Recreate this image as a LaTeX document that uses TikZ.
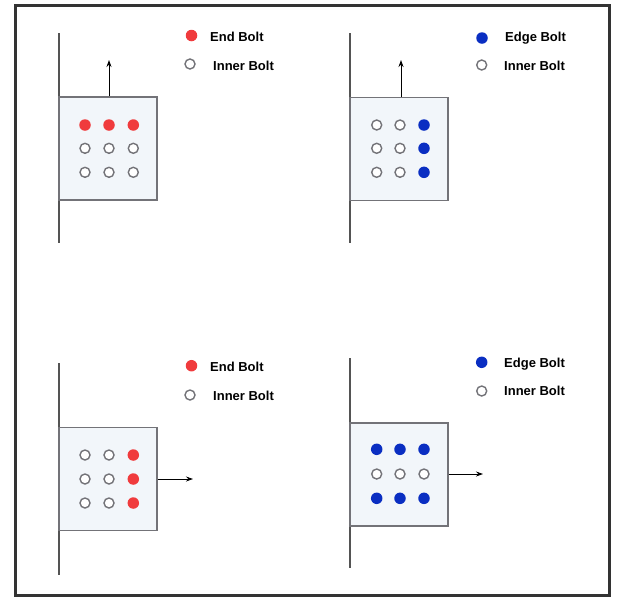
\documentclass[tikz,border=0pt]{standalone}
\usepackage{fontspec}
\setmainfont{Liberation Sans}
\usetikzlibrary{arrows.meta}

\newlength{\du}
\setlength{\du}{1pt}

\definecolor{framecolor}{rgb}{0.200000, 0.200000, 0.200000}
\definecolor{wallcolor}{rgb}{0.330000, 0.330000, 0.330000}
\definecolor{platecolor}{rgb}{0.450000, 0.450000, 0.470000}
\definecolor{platefill}{rgb}{0.950000, 0.965000, 0.980000}
\definecolor{endcolor}{rgb}{0.940000, 0.230000, 0.240000}
\definecolor{edgecolor}{rgb}{0.040000, 0.180000, 0.760000}
\definecolor{innercolor}{rgb}{0.450000, 0.450000, 0.470000}

\tikzset{
  plate/.style={draw=platecolor, fill=platefill, line width=1.3\du, inner sep=0pt,
    minimum width=98\du, minimum height=103\du},
  wall/.style={draw=wallcolor, line width=1.3\du},
  endbolt/.style={circle, fill=endcolor, inner sep=0pt, minimum size=11.5\du},
  edgebolt/.style={circle, fill=edgecolor, inner sep=0pt, minimum size=11.5\du},
  innerbolt/.style={circle, draw=innercolor, fill=white, line width=1.4\du, inner sep=0pt, minimum size=10\du},
  pull/.style={draw=black, line width=0.9\du, -{Stealth[length=7pt,width=5pt]}},
  legendtext/.style={anchor=base west, inner sep=0pt, font=\bfseries\fontsize{13}{15}\selectfont}
}

\begin{document}
\begin{tikzpicture}
\pgftransformxscale{1.000000}
\pgftransformyscale{-1.000000}
\useasboundingbox (0\du,0\du) rectangle (618\du,598\du);
% outer frame
\draw[framecolor, line width=3\du] (15\du,5\du) rectangle (609\du,595\du);

% top left: end bolts, pulled up
\coordinate (wallAtop) at (59\du,33\du);
\coordinate (wallAbot) at (59\du,243\du);
\draw[wall] (wallAtop)--(wallAbot);
\node[plate] (plateA) at (108\du,148.5\du){};
\node[endbolt] (boltA11) at (85\du,125\du){};
\node[endbolt] (boltA12) at (109\du,125\du){};
\node[endbolt] (boltA13) at (133.3\du,125\du){};
\node[innerbolt] (boltA21) at (85\du,148.3\du){};
\node[innerbolt] (boltA22) at (109\du,148.3\du){};
\node[innerbolt] (boltA23) at (133.3\du,148.3\du){};
\node[innerbolt] (boltA31) at (85\du,172.3\du){};
\node[innerbolt] (boltA32) at (109\du,172.3\du){};
\node[innerbolt] (boltA33) at (133.3\du,172.3\du){};
\coordinate (pullA) at (109\du,60\du);
\draw[pull] (pullA |- plateA.north)--(pullA);
\node[endbolt] (keyAend) at (191.5\du,35.5\du){};
\node[innerbolt] (keyAinner) at (190\du,64\du){};
\node[legendtext] (labelAend) at (210\du,41\du){End Bolt};
\node[legendtext] (labelAinner) at (213\du,70\du){Inner Bolt};

% top right: edge bolts, pulled up
\coordinate (wallBtop) at (350\du,33\du);
\coordinate (wallBbot) at (350\du,243\du);
\draw[wall] (wallBtop)--(wallBbot);
\node[plate] (plateB) at (399\du,148.7\du){};
\node[innerbolt] (boltB11) at (376.7\du,125\du){};
\node[innerbolt] (boltB12) at (400\du,125\du){};
\node[edgebolt] (boltB13) at (424\du,125\du){};
\node[innerbolt] (boltB21) at (376.7\du,148.3\du){};
\node[innerbolt] (boltB22) at (400\du,148.3\du){};
\node[edgebolt] (boltB23) at (424\du,148.3\du){};
\node[innerbolt] (boltB31) at (376.7\du,172.3\du){};
\node[innerbolt] (boltB32) at (400\du,172.3\du){};
\node[edgebolt] (boltB33) at (424\du,172.3\du){};
\coordinate (pullB) at (401\du,60\du);
\draw[pull] (pullB |- plateB.north)--(pullB);
\node[edgebolt] (keyBedge) at (482\du,38\du){};
\node[innerbolt] (keyBinner) at (481.7\du,65\du){};
\node[legendtext] (labelBedge) at (505\du,41.5\du){Edge Bolt};
\node[legendtext] (labelBinner) at (504\du,70\du){Inner Bolt};

% bottom left: end bolts, pulled sideways
\coordinate (wallCtop) at (59\du,363\du);
\coordinate (wallCbot) at (59\du,575\du);
\draw[wall] (wallCtop)--(wallCbot);
\node[plate] (plateC) at (108\du,479.2\du){};
\node[innerbolt] (boltC11) at (85\du,455\du){};
\node[innerbolt] (boltC12) at (109\du,455\du){};
\node[endbolt] (boltC13) at (133.3\du,455\du){};
\node[innerbolt] (boltC21) at (85\du,479\du){};
\node[innerbolt] (boltC22) at (109\du,479\du){};
\node[endbolt] (boltC23) at (133.3\du,479\du){};
\node[innerbolt] (boltC31) at (85\du,503\du){};
\node[innerbolt] (boltC32) at (109\du,503\du){};
\node[endbolt] (boltC33) at (133.3\du,503\du){};
\coordinate (pullC) at (193\du,479\du);
\draw[pull] (plateC.east |- pullC)--(pullC);
\node[endbolt] (keyCend) at (191.5\du,365.7\du){};
\node[innerbolt] (keyCinner) at (190\du,395\du){};
\node[legendtext] (labelCend) at (210\du,371.7\du){End Bolt};
\node[legendtext] (labelCinner) at (213\du,400.7\du){Inner Bolt};

% bottom right: edge bolts, pulled sideways
\coordinate (wallDtop) at (350\du,358\du);
\coordinate (wallDbot) at (350\du,568\du);
\draw[wall] (wallDtop)--(wallDbot);
\node[plate] (plateD) at (399\du,474.5\du){};
\node[edgebolt] (boltD11) at (376.7\du,449.3\du){};
\node[edgebolt] (boltD12) at (400\du,449.3\du){};
\node[edgebolt] (boltD13) at (424\du,449.3\du){};
\node[innerbolt] (boltD21) at (376.7\du,474\du){};
\node[innerbolt] (boltD22) at (400\du,474\du){};
\node[innerbolt] (boltD23) at (424\du,474\du){};
\node[edgebolt] (boltD31) at (376.7\du,498.3\du){};
\node[edgebolt] (boltD32) at (400\du,498.3\du){};
\node[edgebolt] (boltD33) at (424\du,498.3\du){};
\coordinate (pullD) at (483\du,474\du);
\draw[pull] (plateD.east |- pullD)--(pullD);
\node[edgebolt] (keyDedge) at (481.7\du,362.3\du){};
\node[innerbolt] (keyDinner) at (481.7\du,391\du){};
\node[legendtext] (labelDedge) at (504\du,367.3\du){Edge Bolt};
\node[legendtext] (labelDinner) at (504\du,395.7\du){Inner Bolt};
\end{tikzpicture}
\end{document}
